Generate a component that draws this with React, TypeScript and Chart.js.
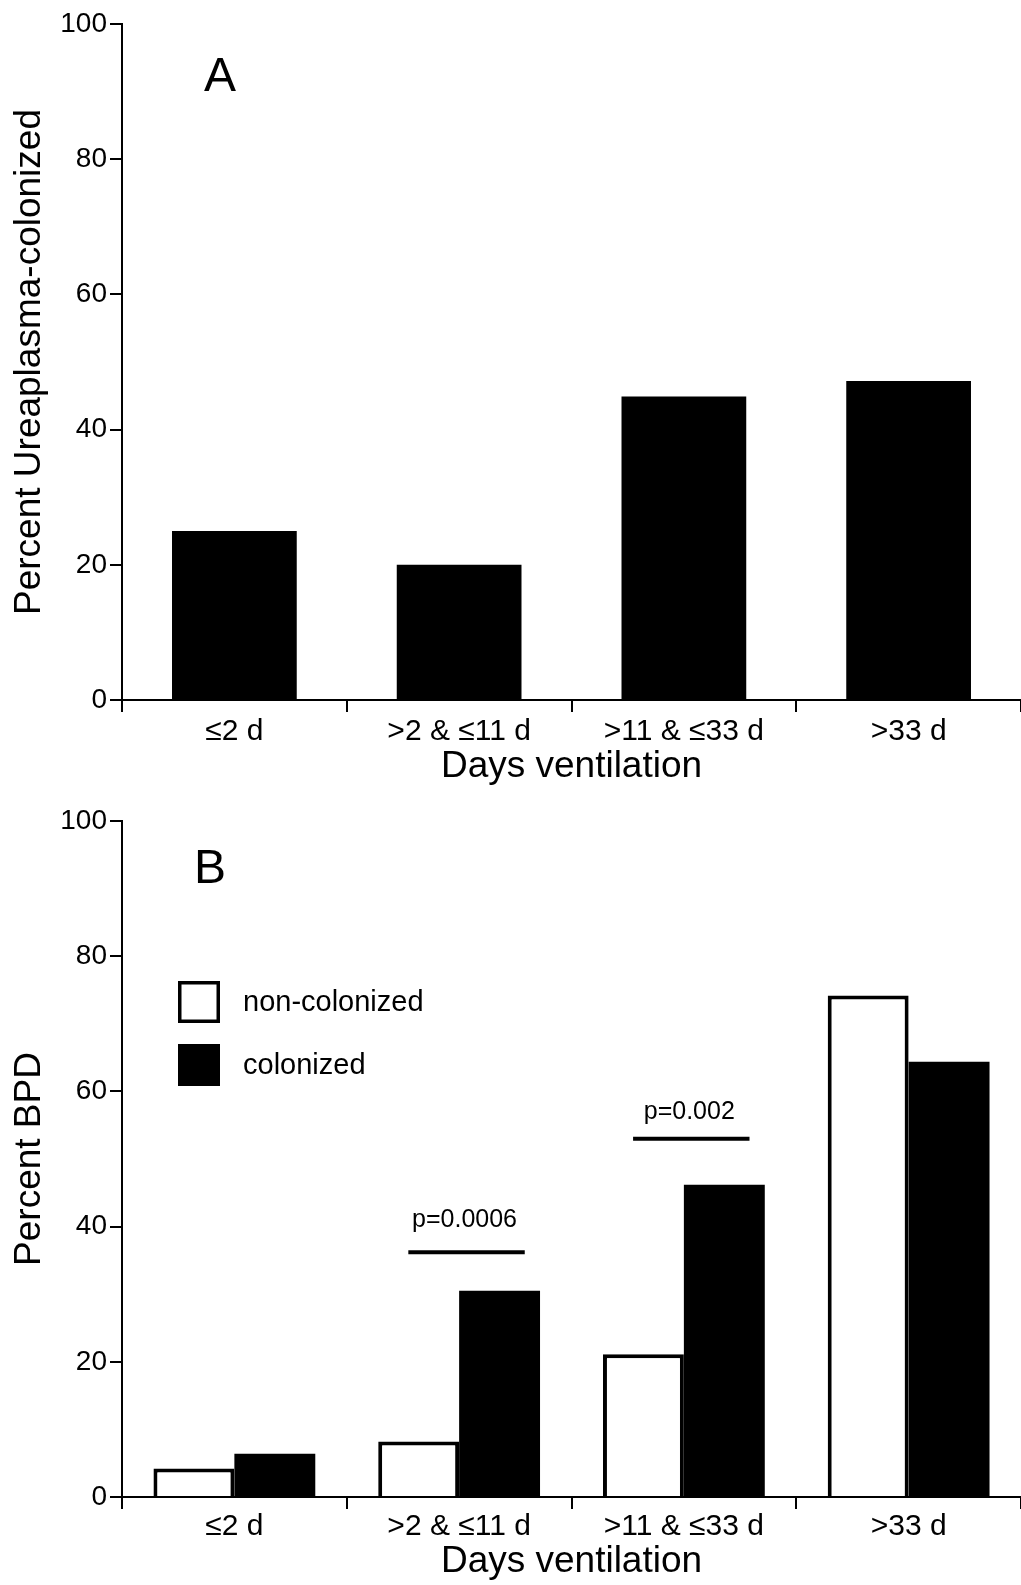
import React, { useEffect, useRef } from 'react';
import { Chart, registerables } from 'chart.js';

Chart.register(...registerables);

// ---------- data ----------
const categories = ['≤2 d', '>2 & ≤11 d', '>11 & ≤33 d', '>33 d'];
const ureaplasmaColonizedPct = [25, 20, 44.9, 47.2];
const seriesLabels = ['non-colonized', 'colonized'];
const bpdNonColonized = [4.2, 8.2, 21.1, 74.2];
const bpdColonized = [6.4, 30.5, 46.2, 64.4];
const yTickValues = [0, 20, 40, 60, 80, 100];
const pValueLabels = ['p=0.0006', 'p=0.002'];
const pValueCategory = [1, 2];
const pValueLevel = [36.2, 53.0];
const xTitle = 'Days ventilation';
const yTitleA = 'Percent Ureaplasma-colonized';
const yTitleB = 'Percent BPD';
const panelLetters = ['A', 'B'];

// ---------- styles ----------
const FONT = "'Liberation Sans', Arial, Helvetica, sans-serif";
const BLACK = '#000000';
const WHITE = '#ffffff';

function yScale(title: string) {
  return {
    min: 0,
    max: 100,
    afterBuildTicks: (s: any) => {
      s.ticks = yTickValues.map((v) => ({ value: v }));
    },
    afterFit: (s: any) => {
      s.width = 122;
    },
    ticks: { color: BLACK, font: { family: FONT, size: 28 }, padding: 3 },
    grid: {
      display: true,
      drawOnChartArea: false,
      drawTicks: true,
      tickLength: 12,
      color: BLACK,
      lineWidth: 2,
    },
    border: { display: true, color: BLACK, width: 2 },
    title: {
      display: true,
      text: title,
      color: BLACK,
      font: { family: FONT, size: 37 },
      padding: { top: 8, bottom: 0 },
    },
  };
}

function xScale(height: number, labelPad: number) {
  return {
    type: 'category',
    offset: true,
    afterFit: (s: any) => {
      s.height = height;
    },
    ticks: {
      color: BLACK,
      font: { family: FONT, size: 30 },
      padding: labelPad,
      maxRotation: 0,
      autoSkip: false,
    },
    grid: {
      display: true,
      drawOnChartArea: false,
      drawTicks: true,
      tickLength: 12,
      color: BLACK,
      lineWidth: 2,
      offset: true,
    },
    border: { display: true, color: BLACK, width: 2 },
    title: {
      display: true,
      text: xTitle,
      color: BLACK,
      font: { family: FONT, size: 37 },
      padding: { top: 0, bottom: 1 },
    },
  };
}

function letterPlugin(letter: string, dx: number, dy: number) {
  return {
    id: 'panelLetter' + letter,
    afterDraw(chart: any) {
      const { ctx, chartArea } = chart;
      ctx.save();
      ctx.fillStyle = BLACK;
      ctx.font = `48px ${FONT}`;
      ctx.textAlign = 'center';
      ctx.textBaseline = 'middle';
      ctx.fillText(letter, chartArea.left + dx, chartArea.top + dy);
      ctx.restore();
    },
  };
}

const legendPlugin = {
  id: 'boxLegend',
  afterDraw(chart: any) {
    const { ctx, chartArea } = chart;
    ctx.save();
    chart.data.datasets.forEach((ds: any, i: number) => {
      const x = chartArea.left + 56;
      const y = chartArea.top + 160 + i * 63;
      const size = 42;
      ctx.fillStyle = ds.backgroundColor;
      ctx.fillRect(x, y, size, size);
      ctx.lineWidth = 3.5;
      ctx.strokeStyle = BLACK;
      ctx.strokeRect(x + 1.75, y + 1.75, size - 3.5, size - 3.5);
      ctx.fillStyle = BLACK;
      ctx.font = `29px ${FONT}`;
      ctx.textAlign = 'left';
      ctx.textBaseline = 'middle';
      ctx.fillText(ds.label, x + 65, y + size / 2 + 1);
    });
    ctx.restore();
  },
};

const pValuePlugin = {
  id: 'pValues',
  afterDraw(chart: any) {
    const { ctx } = chart;
    const xs = chart.scales.x;
    const ys = chart.scales.y;
    const textOffsets = [32, 27];
    ctx.save();
    pValueLabels.forEach((label, k) => {
      const c = pValueCategory[k];
      const x1 = xs.getPixelForValue(c - 0.226);
      const x2 = xs.getPixelForValue(c + 0.292);
      const y = ys.getPixelForValue(pValueLevel[k]);
      ctx.strokeStyle = BLACK;
      ctx.lineWidth = 4;
      ctx.beginPath();
      ctx.moveTo(x1, y);
      ctx.lineTo(x2, y);
      ctx.stroke();
      ctx.fillStyle = BLACK;
      ctx.font = `25px ${FONT}`;
      ctx.textAlign = 'center';
      ctx.textBaseline = 'middle';
      ctx.fillText(label, (x1 + x2) / 2 - 2, y - textOffsets[k]);
    });
    ctx.restore();
  },
};

export default function App() {
  const refA = useRef<HTMLCanvasElement>(null);
  const refB = useRef<HTMLCanvasElement>(null);

  useEffect(() => {
    const chartA = new Chart(refA.current as HTMLCanvasElement, {
      type: 'bar',
      data: {
        labels: categories,
        datasets: [
          {
            label: yTitleA,
            data: ureaplasmaColonizedPct,
            backgroundColor: BLACK,
            borderColor: BLACK,
            borderWidth: 0,
            categoryPercentage: 0.555,
            barPercentage: 1.0,
          },
        ],
      },
      options: {
        responsive: false,
        animation: false,
        layout: { padding: { top: 24, left: 0, right: 0, bottom: 0 } },
        plugins: { legend: { display: false }, tooltip: { enabled: false } },
        scales: { x: xScale(90, 2) as any, y: yScale(yTitleA) as any },
      },
      plugins: [letterPlugin(panelLetters[0], 98, 54)],
    });

    const chartB = new Chart(refB.current as HTMLCanvasElement, {
      type: 'bar',
      data: {
        labels: categories,
        datasets: [
          {
            label: seriesLabels[0],
            data: bpdNonColonized,
            backgroundColor: WHITE,
            borderColor: BLACK,
            borderWidth: 4,
            categoryPercentage: 0.72,
            barPercentage: 1.0,
          },
          {
            label: seriesLabels[1],
            data: bpdColonized,
            backgroundColor: BLACK,
            borderColor: BLACK,
            borderWidth: 0,
            categoryPercentage: 0.72,
            barPercentage: 1.0,
          },
        ],
      },
      options: {
        responsive: false,
        animation: false,
        layout: { padding: { top: 31, left: 0, right: 0, bottom: 0 } },
        plugins: { legend: { display: false }, tooltip: { enabled: false } },
        scales: { x: xScale(88, 0) as any, y: yScale(yTitleB) as any },
      },
      plugins: [letterPlugin(panelLetters[1], 88, 49), legendPlugin, pValuePlugin],
    });

    return () => {
      chartA.destroy();
      chartB.destroy();
    };
  }, []);

  return (
    <div
      style={{
        position: 'absolute',
        left: 0,
        top: 0,
        width: 1021,
        height: 1585,
        background: WHITE,
      }}
    >
      <canvas ref={refA} width={1021} height={790} style={{ display: 'block' }} />
      <canvas ref={refB} width={1021} height={795} style={{ display: 'block' }} />
    </div>
  );
}
